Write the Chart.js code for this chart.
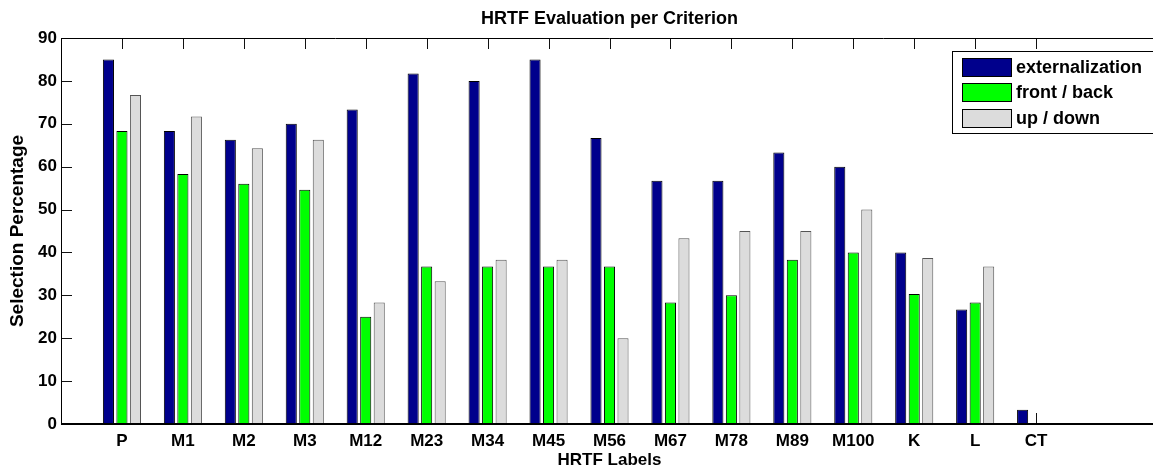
<!DOCTYPE html>
<html>
<head>
<meta charset="utf-8">
<script src="https://cdn.jsdelivr.net/npm/chart.js@4.4.1/dist/chart.umd.min.js"></script>
<style>
html,body{margin:0;padding:0;background:#fff;overflow:hidden;width:1153px;height:470px}
#wrap{width:1165px;height:470px}
</style>
</head>
<body>
<div id="wrap"><canvas id="c" width="1165" height="470"></canvas></div>
<script>
const categories = ['P','M1','M2','M3','M12','M23','M34','M45','M56','M67','M78','M89','M100','K','L','CT'];
const externalization = [85, 68.3, 66.3, 70, 73.3, 81.7, 80, 85, 66.7, 56.7, 56.7, 63.3, 60, 40, 26.7, 3.3];
const frontBack       = [68.3, 58.3, 56, 54.6, 25, 36.7, 36.7, 36.7, 36.7, 28.3, 30, 38.3, 40, 30.3, 28.3, 0];
const upDown          = [76.7, 71.7, 64.3, 66.3, 28.3, 33.3, 38.3, 38.3, 20, 43.3, 45, 45, 50, 38.7, 36.7, 0];
const seriesNames = ['externalization', 'front / back', 'up / down'];
const yTicks = [0, 10, 20, 30, 40, 50, 60, 70, 80, 90];

const FONT = "'Liberation Sans', Arial, Helvetica, sans-serif";
const toPoints = arr => arr.map((v, i) => ({ x: i + 1, y: v }));

const axesPlugin = {
  id: 'matlabAxes',
  beforeDatasetsDraw(chart) {
    const { ctx, chartArea: a, scales: { x, y } } = chart;
    const top = Math.round(a.top), bottom = Math.round(a.bottom), left = Math.round(a.left);
    ctx.save();
    ctx.strokeStyle = '#111';
    ctx.lineWidth = 1;
    ctx.beginPath();
    yTicks.forEach(v => {
      const py = Math.round(y.getPixelForValue(v)) + 0.5;
      ctx.moveTo(left, py); ctx.lineTo(left + 11, py);
    });
    categories.forEach((c, i) => {
      const px = Math.round(x.getPixelForValue(i + 1)) + 0.5;
      ctx.moveTo(px, top); ctx.lineTo(px, top + 11);
      ctx.moveTo(px, bottom); ctx.lineTo(px, bottom - 11);
    });
    ctx.stroke();
    ctx.restore();
  },
  afterDatasetsDraw(chart) {
    const { ctx, chartArea: a } = chart;
    const top = Math.round(a.top), bottom = Math.round(a.bottom), left = Math.round(a.left), right = Math.round(a.right);
    ctx.save();
    ctx.strokeStyle = '#000';
    ctx.lineWidth = 1;
    ctx.beginPath();
    ctx.moveTo(left + 0.5, bottom); ctx.lineTo(left + 0.5, top + 0.5); ctx.lineTo(right - 0.5, top + 0.5); ctx.lineTo(right - 0.5, bottom);
    ctx.stroke();
    ctx.lineWidth = 2;
    ctx.beginPath();
    ctx.moveTo(left, bottom); ctx.lineTo(right, bottom);
    ctx.stroke();
    ctx.restore();
  }
};

const legendPlugin = {
  id: 'matlabLegend',
  afterDraw(chart) {
    const { ctx } = chart;
    const bx = 952, by = 51, bw = 205, bh = 82;
    ctx.save();
    ctx.fillStyle = '#fff';
    ctx.fillRect(bx, by, bw, bh);
    ctx.strokeStyle = '#000';
    ctx.lineWidth = 1;
    ctx.strokeRect(bx + 0.5, by + 0.5, bw, bh);
    ctx.font = 'bold 18px ' + FONT;
    ctx.textBaseline = 'middle';
    ctx.textAlign = 'left';
    chart.data.datasets.forEach((ds, i) => {
      const cy = 66.7 + i * 25.5;
      ctx.fillStyle = ds.backgroundColor;
      ctx.fillRect(962, Math.round(cy - 9), 50, 19);
      ctx.strokeStyle = '#000';
      ctx.strokeRect(962.5, Math.round(cy - 9) + 0.5, 49, 18);
      ctx.fillStyle = '#000';
      ctx.fillText(ds.label, 1016, cy + 1);
    });
    ctx.restore();
  }
};

const zeroless = c => (c.parsed && c.parsed.y === 0) ? 0 : 1;

new Chart(document.getElementById('c'), {
  type: 'bar',
  data: {
    datasets: [
      { label: seriesNames[0], data: toPoints(externalization), backgroundColor: '#00008c', borderColor: '#000' },
      { label: seriesNames[1], data: toPoints(frontBack), backgroundColor: '#00ff00', borderColor: '#000' },
      { label: seriesNames[2], data: toPoints(upDown), backgroundColor: '#dcdcdc', borderColor: '#555' }
    ]
  },
  options: {
    responsive: false,
    animation: false,
    devicePixelRatio: 1,
    layout: { padding: 0 },
    datasets: {
      bar: {
        categoryPercentage: 0.665,
        barPercentage: 0.82,
        borderWidth: zeroless,
        borderSkipped: false
      }
    },
    plugins: {
      legend: { display: false },
      tooltip: { enabled: false },
      title: {
        display: true,
        fullSize: false,
        text: 'HRTF Evaluation per Criterion',
        color: '#000',
        font: { family: FONT, size: 18, weight: 'bold', lineHeight: 1.2 },
        padding: { top: 8, bottom: 8.4 }
      }
    },
    scales: {
      x: {
        type: 'linear',
        min: 0,
        max: 18,
        offset: false,
        grid: { display: false, drawTicks: false },
        border: { display: false },
        ticks: {
          stepSize: 1,
          autoSkip: false,
          maxRotation: 0,
          padding: 7,
          color: '#000',
          font: { family: FONT, size: 17, weight: 'bold' },
          callback: v => (Number.isInteger(v) && v >= 1 && v <= categories.length) ? categories[v - 1] : ''
        },
        title: {
          display: true,
          text: 'HRTF Labels',
          color: '#000',
          font: { family: FONT, size: 17, weight: 'bold', lineHeight: 1 },
          padding: { top: 0, bottom: 1 }
        },
        afterFit: s => { s.height = 46; }
      },
      y: {
        min: 0,
        max: 90,
        grid: { display: false, drawTicks: false },
        border: { display: false },
        ticks: {
          stepSize: 10,
          padding: 4,
          color: '#000',
          font: { family: FONT, size: 17, weight: 'bold' }
        },
        title: {
          display: true,
          text: 'Selection Percentage',
          color: '#000',
          font: { family: FONT, size: 19, weight: 'bold', lineHeight: 1 },
          padding: { top: 8.5, bottom: 0 }
        },
        afterFit: s => { s.width = 61; }
      }
    }
  },
  plugins: [axesPlugin, legendPlugin]
});
</script>
</body>
</html>
